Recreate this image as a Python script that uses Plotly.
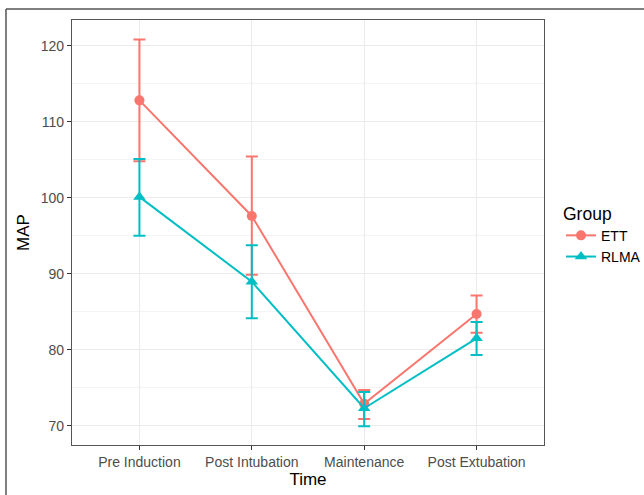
import plotly.graph_objects as go

times = ["Pre Induction", "Post Intubation", "Maintenance", "Post Extubation"]
ett_mean = [112.8, 97.6, 72.9, 84.7]
ett_upper = [120.8, 105.4, 74.7, 87.15]
ett_lower = [104.8, 89.85, 70.9, 82.25]
rlma_mean = [100.1, 88.95, 72.3, 81.5]
rlma_upper = [105.1, 93.75, 74.45, 83.65]
rlma_lower = [95.0, 84.15, 69.95, 79.3]

ETT_COL = "#F8766D"
RLMA_COL = "#00BFC4"

def trace(name, mean, up, lo, color, symbol, size):
    return go.Scatter(
        x=times, y=mean, name=name, mode="lines+markers",
        line=dict(color=color, width=2),
        marker=dict(color=color, symbol=symbol, size=size),
        error_y=dict(type="data", symmetric=False,
                     array=[u - m for u, m in zip(up, mean)],
                     arrayminus=[m - l for m, l in zip(mean, lo)],
                     color=color, thickness=2, width=6),
    )

fig = go.Figure()
fig.add_trace(trace("ETT", ett_mean, ett_upper, ett_lower, ETT_COL, "circle", 10))
fig.add_trace(trace("RLMA", rlma_mean, rlma_upper, rlma_lower, RLMA_COL, "triangle-up", 11))

L, R, T, B = 72, 100, 20, 50
W, H = 644, 495
pw, ph = W - L - R, H - T - B

fig.update_layout(
    width=W, height=H,
    margin=dict(l=L, r=R, t=T, b=B),
    paper_bgcolor="white", plot_bgcolor="white",
    font=dict(family="Liberation Sans, Arial, sans-serif", color="#4D4D4D", size=14),
    legend=dict(
        title=dict(text="Group", font=dict(size=17.5, color="black")),
        font=dict(size=14, color="black"),
        itemwidth=30,
        xref="container", yref="container",
        x=561 / W, y=1 - 197 / H,
        xanchor="left", yanchor="top",
        bgcolor="rgba(0,0,0,0)", tracegroupgap=0,
    ),
    xaxis=dict(
        type="category", categoryorder="array", categoryarray=times,
        range=[-0.6, 3.6],
        showgrid=True, gridcolor="#EBEBEB", gridwidth=1,
        ticks="outside", ticklen=4, tickcolor="#333333", tickwidth=1,
        showline=True, linecolor="#555555", linewidth=1.3, mirror=True,
        zeroline=False,
        tickfont=dict(size=14, color="#4D4D4D"),
        title=dict(text="Time", font=dict(size=17, color="black"), standoff=2),
    ),
    yaxis=dict(
        range=[67.47, 123.37],
        tickvals=[70, 80, 90, 100, 110, 120],
        showgrid=True, gridcolor="#EBEBEB", gridwidth=1,
        minor=dict(tickvals=[75, 85, 95, 105, 115], showgrid=True, gridcolor="#F4F4F4", gridwidth=1),
        ticks="outside", ticklen=4, tickcolor="#333333", tickwidth=1,
        showline=True, linecolor="#555555", linewidth=1.3, mirror=True,
        zeroline=False,
        tickfont=dict(size=14, color="#4D4D4D"),
        title=dict(text="MAP", font=dict(size=17, color="black"), standoff=6),
    ),
    shapes=[
        dict(type="line", xref="paper", yref="paper",
             x0=(6 - L) / pw, x1=(700 - L) / pw,
             y0=1 + (T - 9) / ph, y1=1 + (T - 9) / ph,
             line=dict(color="#555555", width=1.5)),
        dict(type="line", xref="paper", yref="paper",
             x0=(6 - L) / pw, x1=(6 - L) / pw,
             y0=1 + (T - 9) / ph, y1=-(B + 20) / ph,
             line=dict(color="#555555", width=1.5)),
    ],
)

fig.write_html("out.html", config={"displayModeBar": False},
               post_script="document.body.style.margin='0';document.body.style.padding='0';")
